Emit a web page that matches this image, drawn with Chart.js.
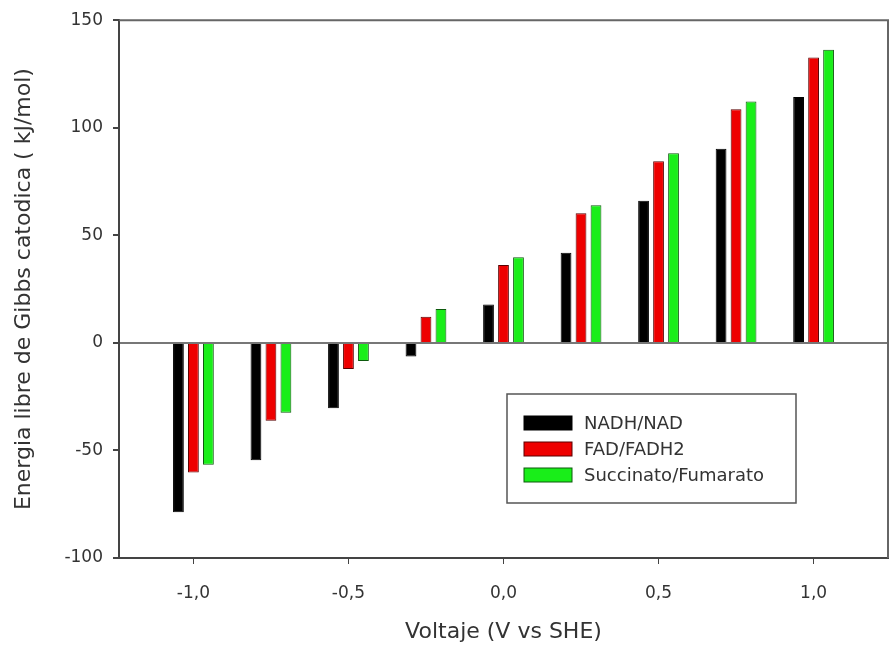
<!DOCTYPE html>
<html>
<head>
<meta charset="utf-8">
<script src="https://cdn.jsdelivr.net/npm/chart.js@4"></script>
<style>
  html, body { margin: 0; padding: 0; background: #fff; }
  #wrap { width: 890px; height: 649px; }
</style>
</head>
<body>
<div id="wrap"><canvas id="myChart" width="890" height="649"></canvas></div>
<script>
// voltajes (V vs SHE)
const voltajes = [-1.0, -0.75, -0.5, -0.25, 0.0, 0.25, 0.5, 0.75, 1.0];
// energia libre de Gibbs catodica (kJ/mol)
const nadh = [-78.7, -54.6, -30.4, -6.3, 17.8, 41.9, 66.1, 90.2, 114.3];
const fad = [-60.3, -36.2, -12.1, 12.1, 36.2, 60.3, 84.4, 108.6, 132.7];
const succinato = [-56.6, -32.5, -8.4, 15.7, 39.8, 64.0, 88.1, 112.2, 136.3];
const etiquetas = ['NADH/NAD', 'FAD/FADH2', 'Succinato/Fumarato'];
const xTicks = [-1.0, -0.5, 0.0, 0.5, 1.0];
const yTicks = [-100, -50, 0, 50, 100, 150];

const fuente = '"DejaVu Sans", sans-serif';

function puntos(vals) {
    return voltajes.map((v, i) => ({ x: v, y: vals[i] }));
}

// marco y leyenda dentro del area del grafico
const marco = {
    id: 'marco',
    afterDraw(chart) {
        const ctx = chart.ctx;
        const a = chart.chartArea;
        ctx.save();
        ctx.strokeStyle = '#666';
        ctx.lineWidth = 2;
        ctx.beginPath();
        ctx.moveTo(a.left, a.top);
        ctx.lineTo(a.right, a.top);
        ctx.lineTo(a.right, a.bottom);
        ctx.stroke();

        // leyenda
        const lx = 507, ly = 394, lw = 289, lh = 109;
        ctx.lineWidth = 1.5;
        ctx.strokeStyle = '#555';
        ctx.fillStyle = '#fff';
        ctx.fillRect(lx, ly, lw, lh);
        ctx.strokeRect(lx, ly, lw, lh);
        ctx.font = '18px ' + fuente;
        ctx.textBaseline = 'middle';
        chart.data.datasets.forEach((ds, i) => {
            const cy = 423 + i * 26;
            ctx.fillStyle = ds.backgroundColor;
            ctx.fillRect(524, cy - 7, 48, 14);
            ctx.strokeStyle = ds.borderColor;
            ctx.lineWidth = 1;
            ctx.strokeRect(524, cy - 7, 48, 14);
            ctx.fillStyle = '#333';
            ctx.fillText(ds.label, 584, cy + 1);
        });
        ctx.restore();
    }
};

const ctx = document.getElementById('myChart').getContext('2d');
const chart = new Chart(ctx, {
    type: 'bar',
    data: {
        datasets: [
            { label: etiquetas[0], data: puntos(nadh), backgroundColor: '#000000', borderColor: '#000000', borderWidth: 1 },
            { label: etiquetas[1], data: puntos(fad), backgroundColor: '#ee0000', borderColor: '#5a0000', borderWidth: 1 },
            { label: etiquetas[2], data: puntos(succinato), backgroundColor: '#19ee19', borderColor: '#0d5a0d', borderWidth: 1 }
        ]
    },
    options: {
        responsive: false,
        animation: false,
        categoryPercentage: 0.58,
        barPercentage: 0.72,
        layout: { padding: { top: 20, right: 2, left: 0, bottom: 0 } },
        plugins: {
            legend: { display: false },
            tooltip: { enabled: false }
        },
        scales: {
            x: {
                type: 'linear',
                min: -1.24,
                max: 1.24,
                offset: false,
                afterFit(scale) { scale.height = 91; },
                afterBuildTicks(scale) { scale.ticks = xTicks.map(v => ({ value: v })); },
                ticks: {
                    color: '#333',
                    font: { size: 17, family: fuente },
                    padding: 19,
                    callback: v => v.toFixed(1).replace('.', ',')
                },
                grid: { offset: false, color: 'transparent', tickColor: '#444', tickLength: 6, drawOnChartArea: false },
                border: { display: true, color: '#444', width: 2 },
                title: {
                    display: true,
                    text: 'Voltaje (V vs SHE)',
                    color: '#333',
                    font: { size: 22, family: fuente },
                    padding: { top: 4, bottom: 4 }
                }
            },
            y: {
                min: -100,
                max: 150,
                afterFit(scale) { scale.width = 119; },
                afterBuildTicks(scale) { scale.ticks = yTicks.map(v => ({ value: v })); },
                ticks: {
                    color: '#333',
                    font: { size: 17, family: fuente },
                    padding: 10
                },
                grid: {
                    color: c => c.tick && c.tick.value === 0 ? '#777' : 'transparent',
                    lineWidth: 2,
                    tickColor: '#444',
                    tickLength: 6
                },
                border: { display: true, color: '#444', width: 2 },
                title: {
                    display: true,
                    text: 'Energia libre de Gibbs catodica ( kJ/mol)',
                    color: '#333',
                    font: { size: 22, family: fuente },
                    padding: { top: 11, bottom: 0 }
                }
            }
        }
    },
    plugins: [marco]
});
</script>
</body>
</html>
